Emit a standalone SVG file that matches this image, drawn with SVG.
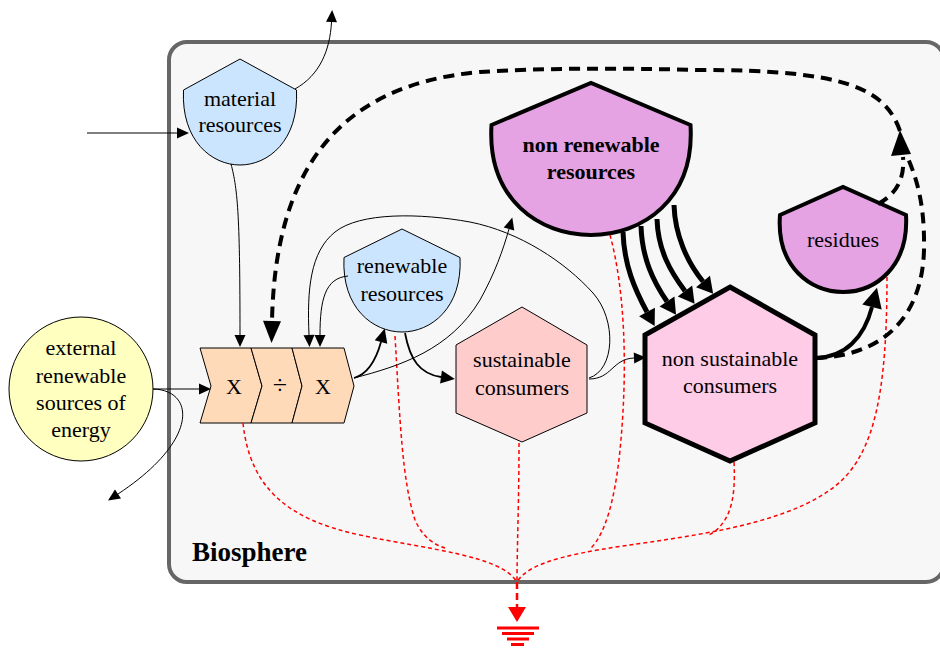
<svg xmlns="http://www.w3.org/2000/svg" width="940" height="648" viewBox="0 0 940 648" font-family="'Liberation Serif', 'Times New Roman', 'DejaVu Serif', serif">
<style>
text{font-family:'Liberation Serif','Times New Roman','DejaVu Serif',serif;font-size:22px;text-anchor:middle;fill:#000}
.b{font-weight:bold}
.thin{fill:none;stroke:#000;stroke-width:1}
.med{fill:none;stroke:#000;stroke-width:1.8}
.thick{fill:none;stroke:#000;stroke-width:5}
.thick4{fill:none;stroke:#000;stroke-width:4}
.dash{fill:none;stroke:#000;stroke-width:4;stroke-dasharray:11,7}
.red{fill:none;stroke:#f00;stroke-width:1.5;stroke-dasharray:4,3}
.blue{fill:#cce5ff;stroke:#000;stroke-width:1}
.purple{fill:#e6a3e3;stroke:#000;stroke-width:4}
.mul{fill:#ffdab9;stroke:#000;stroke-width:1}
</style>
<defs>
<marker id="ah" markerUnits="userSpaceOnUse" markerWidth="12" markerHeight="11" refX="0" refY="5.5" orient="auto" overflow="visible"><path d="M0,0 L12,5.5 L0,11 Z" fill="#000"/></marker>
<marker id="am" markerUnits="userSpaceOnUse" markerWidth="14" markerHeight="13" refX="0" refY="6.5" orient="auto" overflow="visible"><path d="M0,0 L14,6.5 L0,13 Z" fill="#000"/></marker>
<marker id="at" markerUnits="userSpaceOnUse" markerWidth="16" markerHeight="18" refX="0" refY="9" orient="auto" overflow="visible"><path d="M0,0 L16,9 L0,18 Z" fill="#000"/></marker>
<marker id="ar" markerUnits="userSpaceOnUse" markerWidth="20" markerHeight="20" refX="0" refY="10" orient="auto" overflow="visible"><path d="M0,0 L20,10 L0,20 Z" fill="#000"/></marker>
<marker id="ad" markerUnits="userSpaceOnUse" markerWidth="22" markerHeight="18" refX="0" refY="9" orient="auto" overflow="visible"><path d="M0,0 L22,9 L0,18 Z" fill="#000"/></marker>
</defs>
<rect width="940" height="648" fill="#fff"/>
<g id="biosphere">
<rect x="169" y="42" width="775" height="540" rx="18" fill="#f7f7f7" stroke="#666" stroke-width="4"/>
<text x="192" y="561" font-family="'Liberation Serif', serif" font-weight="bold" font-size="27" text-anchor="start" style="font-size:27px;text-anchor:start;font-weight:bold">Biosphere</text>
</g>

<g id="external" font-family="'Liberation Serif', serif">
<circle cx="81" cy="389" r="72" fill="#ffffc0" stroke="#000" stroke-width="1"/>
<text x="81" y="355">external</text>
<text x="81" y="383">renewable</text>
<text x="81" y="410">sources of</text>
<text x="81" y="437">energy</text>
</g>

<g id="material" font-family="'Liberation Serif', serif">
<path class="blue" d="M183.5,90 L240,59 L296.5,90 C 299,141 268,165 240,165 C 212,165 181,141 183.5,90 Z"/>
<text x="240" y="106">material</text>
<text x="240" y="132">resources</text>
</g>

<g id="renewable" font-family="'Liberation Serif', serif">
<path class="blue" d="M344,257.5 L402,229 L460,257.5 C 462.6,308 431,332 402,332 C 373,332 341.4,308 344,257.5 Z"/>
<text x="402" y="273">renewable</text>
<text x="402" y="301">resources</text>
</g>

<g id="nonrenewable" font-family="'Liberation Serif', serif">
<path class="purple" d="M491.5,125 L591,83 L690.5,125 C 695,200 642,235 591,235 C 540,235 487,200 491.5,125 Z"/>
<text x="591" y="152" class="b">non renewable</text>
<text x="591" y="179" class="b">resources</text>
</g>

<g id="residues" font-family="'Liberation Serif', serif">
<path class="purple" d="M780,215 L843,187 L906,215 C 909,267 875,292 843,292 C 811,292 776,267 780,215 Z"/>
<text x="843" y="247">residues</text>
</g>

<g id="multiplier" font-family="'Liberation Serif', serif">
<path class="mul" d="M200,348 L251,348 L262,386 L251,423 L200,423 L211,386 Z"/>
<path class="mul" d="M251,348 L292,348 L302,386 L292,423 L251,423 L262,386 Z"/>
<path class="mul" d="M292,348 L344,348 L354,386 L344,423 L292,423 L302,386 Z"/>
<text x="234" y="394">X</text>
<text x="280" y="394" style="font-size:26px">÷</text>
<text x="323" y="394">X</text>
</g>

<g id="sustainable" font-family="'Liberation Serif', serif">
<path d="M522,307 L587,345 L587,413 L522,442 L456,413 L456,345 Z" fill="#ffcccc" stroke="#000" stroke-width="1"/>
<text x="522" y="367">sustainable</text>
<text x="522" y="395">consumers</text>
</g>

<g id="nonsustainable" font-family="'Liberation Serif', serif">
<path d="M730,287 L815,335 L815,423 L730,461 L645,423 L645,335 Z" fill="#ffcce8" stroke="#000" stroke-width="5" stroke-linejoin="miter"/>
<text x="730" y="366">non sustainable</text>
<text x="730" y="393">consumers</text>
</g>

<g id="connectors">
<path class="red" d="M243,423 C 250,490 290,520 360,535 C 430,550 500,555 517,582"/>
<path class="red" d="M395,336 C 400,420 402,480 415,520 C 423,538 435,545 445,548"/>
<path class="red" d="M519,443 C 519,500 517,550 517,582"/>
<path class="red" d="M610,235 C 625,290 628,370 620,450 C 615,500 605,535 590,549"/>
<path class="red" d="M734,462 C 736,500 730,525 707,536"/>
<path class="red" d="M887,277 C 887,390 875,450 840,482 C 800,518 720,532 650,542 C 580,552 530,560 517,582"/>
<path d="M517,582 L517,607" fill="none" stroke="#f00" stroke-width="2.5" stroke-dasharray="7,4"/>
<path d="M508,607 L517,622 L526,607 Z" fill="#f00"/>
<g stroke="#f00" stroke-width="3">
<line x1="497" y1="628" x2="539" y2="628"/>
<line x1="502" y1="633.5" x2="534" y2="633.5"/>
<line x1="507" y1="639" x2="529" y2="639"/>
<line x1="511" y1="644.5" x2="524" y2="644.5"/>
</g>

<path class="thin" d="M153,389 L199,389" marker-end="url(#ah)"/>
<path class="thin" d="M153,389 C 195,390 200,440 118,494" marker-end="url(#ah)"/>
<path class="thin" d="M87,133 L177,133" marker-end="url(#ah)"/>
<path class="thin" d="M295,89 C 320,75 330,50 331.5,22" marker-end="url(#ah)"/>
<path class="thin" d="M231,164 C 238,190 240,220 240,335" marker-end="url(#ah)"/>
<path class="thin" d="M354,378 C 400,366 450,350 480,300 C 495,273 503,250 509,229" marker-end="url(#ah)"/>
<path class="thin" d="M589,378 C 615,370 617,320 593,293 C 565,262 520,232 470,222 C 420,213 360,212 335,232 C 310,252 307,290 309,335" marker-end="url(#ah)"/>
<path class="thin" d="M348,276 C 325,278 320,300 320,335" marker-end="url(#ah)"/>
<path class="thin" d="M589,379 C 612,379 612,359 634,358" marker-end="url(#ah)"/>

<path class="med" d="M354,378 C 368,374 376,360 381,342" marker-end="url(#am)"/>
<path class="med" d="M405,333 C 410,360 420,374 441,377" marker-end="url(#am)"/>

<path class="thick" d="M623,232 C 624,265 635,290 647,312" marker-end="url(#at)"/>
<path class="thick" d="M641,226 C 642,258 653,281 667,301.5" marker-end="url(#at)"/>
<path class="thick" d="M657,219 C 658,250 670,271 685,291" marker-end="url(#at)"/>
<path class="thick" d="M674,205 C 675,235 687,262 703,281.5" marker-end="url(#at)"/>

<path class="thick4" d="M816,358 C 845,357 864,338 872,307" marker-end="url(#ar)"/>

<path class="dash" d="M878,204 C 895,195 905,180 903,157"/>
<path class="dash" d="M816,358 C 880,356 922,320 924,250 C 925,200 915,175 907,156"/>
<path d="M900,130 L891,156 L911,154 Z" fill="#000"/>
<path class="dash" d="M900,131 C 885,88 845,70 700,70 C 620,68 540,68 480,72 C 330,85 275,180 272,321" marker-end="url(#ad)"/>
</g>
</svg>
